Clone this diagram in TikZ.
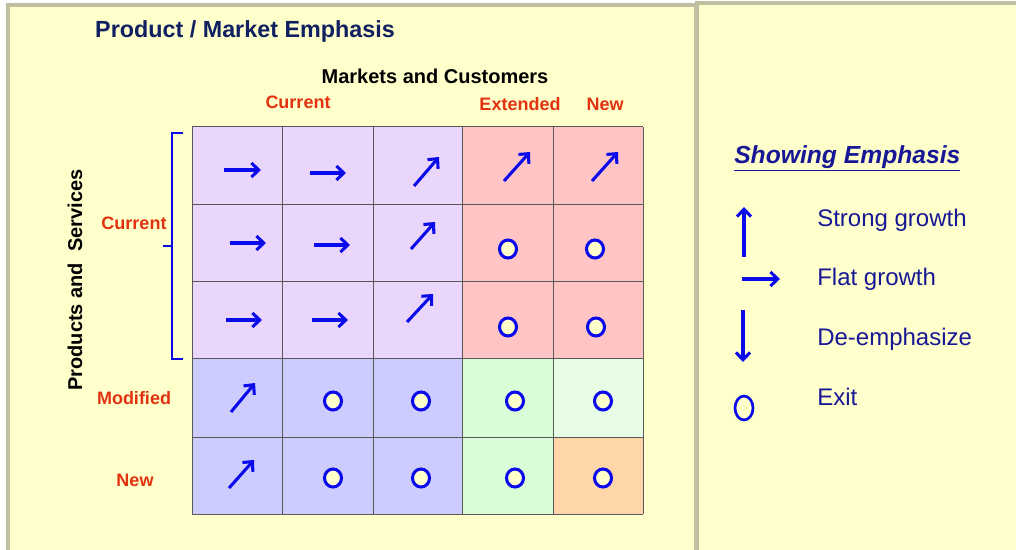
\documentclass[tikz,border=0pt]{standalone}
\usepackage{fontspec}
\setmainfont{Liberation Sans}
\usetikzlibrary{arrows.meta}
\definecolor{panel}{RGB}{255,255,204}
\definecolor{panelline}{RGB}{192,192,160}
\definecolor{lavender}{RGB}{234,214,250}
\definecolor{rose}{RGB}{255,196,196}
\definecolor{periwinkle}{RGB}{204,204,255}
\definecolor{mint}{RGB}{218,253,216}
\definecolor{palemint}{RGB}{232,253,230}
\definecolor{peach}{RGB}{255,214,170}
\definecolor{navy}{RGB}{16,32,96}
\definecolor{labelred}{RGB}{226,50,16}
\definecolor{keyblue}{RGB}{24,24,150}
\definecolor{markblue}{RGB}{10,10,235}

\begin{document}
\begin{tikzpicture}[x=0.75pt, y=-0.75pt,
        trend/.style={line width=2.3pt, markblue, -{Straight Barb[length=5.5pt,width=10.5pt]}},
        exitring/.style={line width=2.3pt, draw=markblue, fill=panel},
        gridline/.style={draw=black!65, line width=0.75pt},
        redlabel/.style={labelred, font=\bfseries\fontsize{13.5}{16}\selectfont},
        keytext/.style={keyblue, anchor=base west, inner sep=0pt, font=\fontsize{18}{22}\selectfont}]
            \useasboundingbox (0,0) rectangle (1016,549);
            \fill[white] (0,0) rectangle (1016,549);
            \draw[fill=panel, draw=panelline, line width=2.4pt] (8,5) rectangle (696,570);
            \draw[fill=panel, draw=panelline, line width=2.4pt] (697,3) rectangle (1040,570);
            % cell colours
            \fill[lavender] (192,127) rectangle (462,358);
            \fill[rose] (462,127) rectangle (643,358);
            \fill[periwinkle] (192,358) rectangle (462,514);
            \fill[mint] (462,358) rectangle (553,514);
            \fill[palemint] (553,358) rectangle (643,437);
            \fill[peach] (553,437) rectangle (643,514);
            \foreach \x in {192,282,373,462,553,643} \draw[gridline] (\x,127) -- (\x,514);
            \foreach \y in {127,204,281,358,437,514} \draw[gridline] (192,\y) -- (643,\y);
            % growth marks
            \draw[trend] (224,170) -- (261,170);
            \draw[trend] (310,173) -- (346,173);
            \draw[trend] (414,186) -- (439,157);
            \draw[trend] (504,181) -- (530,152);
            \draw[trend] (592,181) -- (618,152);
            \draw[trend] (230,243) -- (266,243);
            \draw[trend] (314,245) -- (350,245);
            \draw[trend] (411,249) -- (435,222);
            \draw[trend] (226,320) -- (262,320);
            \draw[trend] (312,320) -- (348,320);
            \draw[trend] (407,322) -- (433,294);
            \draw[trend] (231,412) -- (255,383);
            \draw[trend] (229,488) -- (254,460);
            % exit marks
            \foreach \x/\y in {508/249, 595/249, 508/327, 596/327, 333/401, 421/401, 515/401, 603/401, 333/478, 421/478, 515/478, 603/478}
                \draw[exitring] (\x,\y) ellipse [x radius=8.5, y radius=9];
            % bracket
            \draw[markblue, line width=2pt] (183,133) -- (172,133) -- (172,359) -- (183,359);
            \draw[markblue, line width=2pt] (172,246) -- (163,246);
            % labels
            \node[navy, font=\bfseries\fontsize{17.5}{20}\selectfont] (title) at (245,31) {Product / Market Emphasis};
            \node[font=\bfseries\fontsize{15}{18}\selectfont] (markets) at (435,76) {Markets and Customers};
            \node[redlabel] (colcurrent) at (298,102) {Current};
            \node[redlabel] (colextended) at (520,104) {Extended};
            \node[redlabel] (colnew) at (605,104) {New};
            \node[redlabel] (rowcurrent) at (134,223) {Current};
            \node[redlabel] (rowmodified) at (134,398) {Modified};
            \node[redlabel] (rownew) at (135,480) {New};
            \node[rotate=90, font=\bfseries\fontsize{15}{18}\selectfont] (products) at (75,280) {Products and\ \ Services};
            % key
            \node[keytext, font=\bfseries\itshape\fontsize{18.5}{22}\selectfont] (keytitle) at (734,163) {\underline{Showing Emphasis}};
            \draw[trend] (744,257) -- (744,207);
            \node[keytext] (strong) at (817,226) {Strong growth};
            \draw[trend] (742,279) -- (780,279);
            \node[keytext] (flat) at (817,285) {Flat growth};
            \draw[trend] (743,310) -- (743,362);
            \node[keytext] (deemph) at (817,345) {De-emphasize};
            \draw[line width=2pt, markblue] (744,408) ellipse [x radius=9, y radius=12];
            \node[keytext] (exit) at (817,405) {Exit};
        \end{tikzpicture}
\end{document}
